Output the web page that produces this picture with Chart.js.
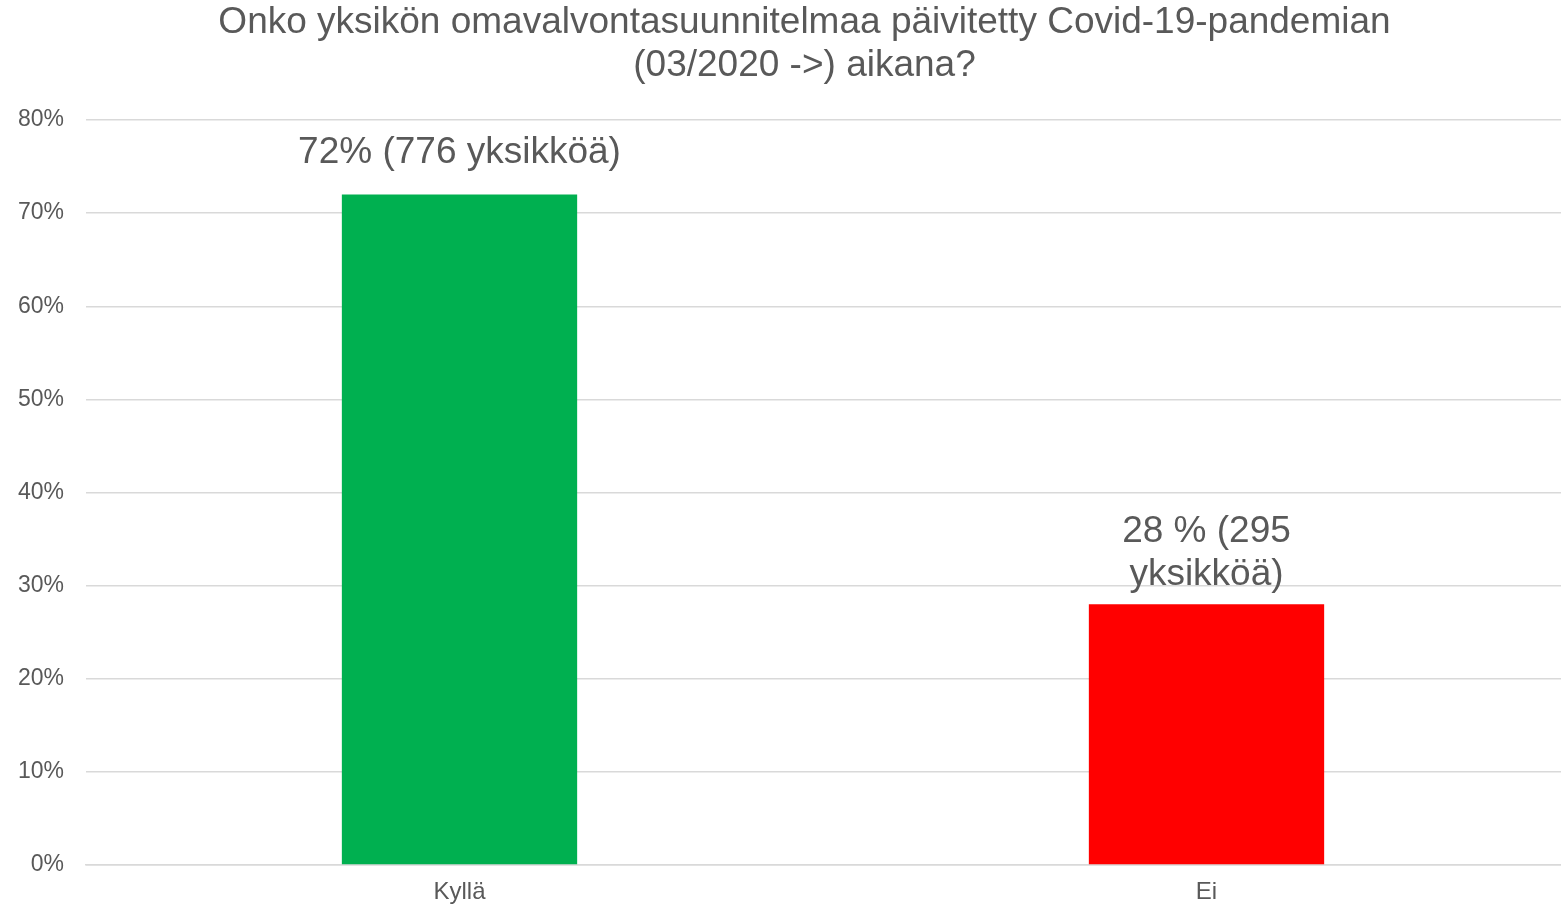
<!DOCTYPE html>
<html>
<head>
<meta charset="utf-8">
<script src="https://cdn.jsdelivr.net/npm/chart.js@4"></script>
<style>
  html, body { margin: 0; padding: 0; background: #fff; overflow: hidden; }
  #wrap { width: 1561px; height: 906px; overflow: hidden; }
</style>
</head>
<body>
<div id="wrap"><canvas id="c" width="1609" height="906"></canvas></div>
<script>
const categories = ["Kyllä", "Ei"];
const values = [72, 28];
const barLabels = [["72% (776 yksikköä)"], ["28 % (295", "yksikköä)"]];
const barColors = ["#00B050", "#FF0000"];
const titleLines = ["Onko yksikön omavalvontasuunnitelmaa päivitetty Covid-19-pandemian", "(03/2020 ->) aikana?"];

const FONT = "'Liberation Sans', Arial, sans-serif";

// labels above the bars, like Excel's "outside end" data labels
const labelPlugin = {
  id: "barLabels",
  afterDatasetsDraw(chart, args, opts) {
    const ctx = chart.ctx;
    const meta = chart.getDatasetMeta(0);
    ctx.save();
    ctx.font = "37px " + FONT;
    ctx.fillStyle = "#595959";
    ctx.textAlign = "center";
    ctx.textBaseline = "alphabetic";
    meta.data.forEach((bar, i) => {
      const lines = barLabels[i];
      const lh = 43;
      let y = bar.y - opts.gaps[i] - (lines.length - 1) * lh;
      lines.forEach((t) => {
        ctx.fillText(t, bar.x, y);
        y += lh;
      });
    });
    ctx.restore();
  },
};

// title centred on the whole canvas (the built-in one would respect layout padding)
const titlePlugin = {
  id: "bigTitle",
  afterDraw(chart) {
    const ctx = chart.ctx;
    ctx.save();
    ctx.font = "37px " + FONT;
    ctx.fillStyle = "#595959";
    ctx.textAlign = "center";
    ctx.textBaseline = "middle";
    titleLines.forEach((t, i) => ctx.fillText(t, chart.width / 2, 23 + i * 43));
    ctx.restore();
  },
};

new Chart(document.getElementById("c"), {
  type: "bar",
  data: {
    labels: categories,
    datasets: [
      {
        data: values,
        backgroundColor: barColors,
        barPercentage: 1,
        categoryPercentage: 0.315,
      },
    ],
  },
  options: {
    responsive: false,
    animation: false,
    layout: { padding: { top: 120, right: 29, bottom: -13, left: 0 } },
    plugins: {
      legend: { display: false },
      tooltip: { enabled: false },
      title: { display: false },
      barLabels: { gaps: [32, 19] },
    },
    scales: {
      y: {
        min: 0,
        max: 80,
        ticks: {
          stepSize: 10,
          padding: 22,
          color: "#595959",
          font: { family: FONT, size: 23 },
          callback: (v) => v + "%",
        },
        grid: { color: "#d9d9d9", lineWidth: 1.5, drawTicks: false },
        border: { display: false },
        afterFit(scale) { scale.width = 86; },
      },
      x: {
        ticks: {
          color: "#595959",
          padding: 15,
          font: { family: FONT, size: 24, lineHeight: 1 },
        },
        grid: { display: false, drawTicks: false },
        border: { color: "#d9d9d9", width: 1.5 },
      },
    },
  },
  plugins: [labelPlugin, titlePlugin],
});
</script>
</body>
</html>
